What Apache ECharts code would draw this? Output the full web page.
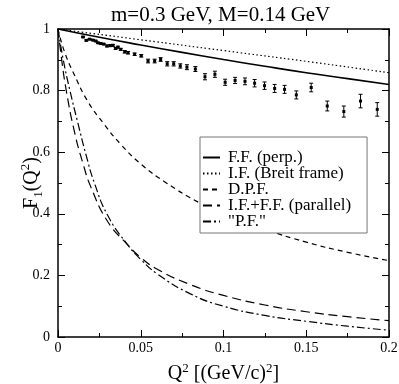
<!DOCTYPE html>
<html>
<head>
<meta charset="utf-8">
<title>F1(Q2)</title>
<script src="https://cdn.jsdelivr.net/npm/echarts@6/dist/echarts.min.js"></script>
<style>
    body { margin: 0; background: #fff; }
    #main { width: 399px; height: 384px; }
</style>
</head>
<body>
<div id="main"></div>
<script type="text/javascript">
    // curves as [Q2, F1]
    var ffPerp = [[0,1],[0.025,0.973],[0.05,0.948],[0.075,0.924],[0.1,0.901],[0.125,0.879],[0.15,0.858],[0.175,0.839],[0.2,0.82]];
    var ifBreit = [[0,1],[0.05,0.965],[0.1,0.93],[0.15,0.895],[0.2,0.858]];
    var dpf = [[0,1],[0.004,0.925],[0.01,0.85],[0.018,0.765],[0.028,0.69],[0.038,0.625],[0.05,0.562],[0.065,0.502],[0.085,0.437],[0.1,0.4],[0.125,0.35],[0.15,0.308],[0.175,0.275],[0.2,0.248]];
    var ifffPar = [[0,1],[0.002,0.91],[0.005,0.8],[0.01,0.665],[0.015,0.565],[0.02,0.485],[0.03,0.375],[0.042,0.3],[0.05,0.258],[0.06,0.22],[0.08,0.17],[0.1,0.135],[0.125,0.104],[0.15,0.082],[0.175,0.066],[0.2,0.053]];
    var pointForm = [[0,1],[0.003,0.905],[0.007,0.805],[0.012,0.695],[0.017,0.59],[0.022,0.5],[0.03,0.395],[0.042,0.3],[0.05,0.252],[0.06,0.205],[0.08,0.14],[0.1,0.1],[0.125,0.07],[0.15,0.051],[0.175,0.035],[0.2,0.022]];

    // data points with error: [Q2, F1, err]
    var expData = [
        [0.0151,0.974,0.002],[0.0171,0.963,0.002],[0.0191,0.967,0.002],[0.0211,0.964,0.002],
        [0.0228,0.961,0.002],[0.0242,0.955,0.002],[0.0258,0.953,0.002],[0.0276,0.951,0.002],
        [0.0296,0.945,0.003],[0.0316,0.946,0.003],[0.0332,0.947,0.003],[0.0348,0.937,0.003],
        [0.0362,0.941,0.003],[0.0379,0.934,0.003],[0.0403,0.926,0.004],[0.0423,0.923,0.004],
        [0.0463,0.918,0.004],[0.0503,0.913,0.004],[0.0544,0.896,0.006],[0.0584,0.896,0.006],
        [0.0620,0.901,0.006],[0.0660,0.887,0.007],[0.0699,0.887,0.007],[0.0739,0.880,0.007],
        [0.0779,0.876,0.008],[0.0830,0.870,0.008],[0.0888,0.845,0.010],[0.0948,0.853,0.010],
        [0.1010,0.827,0.010],[0.1070,0.833,0.010],[0.1130,0.830,0.011],[0.1188,0.824,0.012],
        [0.1248,0.816,0.012],[0.1309,0.807,0.013],[0.1369,0.804,0.013],[0.1440,0.786,0.013],
        [0.1530,0.810,0.014],[0.1627,0.750,0.016],[0.1727,0.732,0.018],[0.1828,0.766,0.022],
        [0.1929,0.739,0.022]
    ];

    var legendNames = ['F.F. (perp.)', 'I.F. (Breit frame)', 'D.P.F.', 'I.F.+F.F. (parallel)', '"P.F."'];
    var font = 'Liberation Serif';

    function lineSeries(name, data, dash, width) {
        return {
            name: name,
            type: 'line',
            data: data,
            symbol: 'none',
            smooth: 0.5,
            color: '#000',
            lineStyle: { color: '#000', width: width, type: dash },
            z: 3
        };
    }

    function errorItem(params, api) {
        var x = api.value(0), y = api.value(1), e = api.value(2);
        var c = api.coord([x, y]);
        var hi = api.coord([x, y + e]);
        var lo = api.coord([x, y - e]);
        var st = { stroke: '#000', lineWidth: 1 };
        return {
            type: 'group',
            children: [
                { type: 'line', shape: { x1: c[0], y1: hi[1], x2: c[0], y2: lo[1] }, style: st },
                { type: 'line', shape: { x1: c[0] - 2, y1: hi[1], x2: c[0] + 2, y2: hi[1] }, style: st },
                { type: 'line', shape: { x1: c[0] - 2, y1: lo[1], x2: c[0] + 2, y2: lo[1] }, style: st },
                { type: 'rect', shape: { x: c[0] - 1.5, y: c[1] - 1.5, width: 3, height: 3 }, style: { fill: '#000' } }
            ]
        };
    }

    var tickLine = { color: '#000', width: 1 };
    function axisBase(extra) {
        var a = {
            type: 'value',
            axisLine: { show: true, onZero: false, lineStyle: { color: '#000', width: 1.5 } },
            axisTick: { show: true, inside: true, length: 7, lineStyle: tickLine },
            minorTick: { show: true, splitNumber: 2, length: 4, lineStyle: tickLine },
            splitLine: { show: false },
            axisLabel: { show: false }
        };
        for (var k in extra) a[k] = extra[k];
        return a;
    }

    var chart = echarts.init(document.getElementById('main'));
    chart.setOption({
        animation: false,
        backgroundColor: '#fff',
        title: {
            text: 'm=0.3 GeV, M=0.14 GeV',
            left: 106,
            top: 0,
            textStyle: { fontFamily: font, fontSize: 21, fontWeight: 'normal', color: '#000' }
        },
        grid: { left: 58, right: 10, top: 29, bottom: 47, outerBoundsMode: 'none' },
        legend: {
            data: legendNames,
            orient: 'vertical',
            left: 200,
            top: 137,
            padding: [12, 16, 3, 2],
            itemWidth: 17,
            itemHeight: 10,
            itemGap: -1,
            itemStyle: { opacity: 0 },
            backgroundColor: '#fff',
            borderColor: '#777',
            borderWidth: 1,
            borderRadius: 0,
            textStyle: { fontFamily: font, fontSize: 17, color: '#000', padding: [0, 0, 0, 3] },
            z: 10
        },
        xAxis: [
            axisBase({
                min: 0, max: 0.2, interval: 0.05, position: 'bottom',
                axisLabel: { show: true, color: '#000', fontFamily: font, fontSize: 14, margin: 4 },
                name: '{a|Q}{sup|2}{a| [(GeV/c)}{sup|2}{a|]}',
                nameLocation: 'middle',
                nameMoveOverlap: false,
                nameGap: 25,
                nameTextStyle: {
                    rich: {
                        a: { fontFamily: font, fontSize: 20, color: '#000', lineHeight: 24 },
                        sup: { fontFamily: font, fontSize: 13, color: '#000', lineHeight: 13, verticalAlign: 'top' }
                    }
                }
            }),
            axisBase({ min: 0, max: 0.2, interval: 0.05, position: 'top' })
        ],
        yAxis: [
            axisBase({
                min: 0, max: 1, interval: 0.2, position: 'left',
                axisLabel: { show: true, color: '#000', fontFamily: font, fontSize: 14, margin: 8 },
                name: '{a|F}{sub|1}{a|(Q}{sup|2}{a|)}',
                nameLocation: 'middle',
                nameMoveOverlap: false,
                nameGap: 13,
                nameTextStyle: {
                    rich: {
                        a: { fontFamily: font, fontSize: 20, color: '#000', lineHeight: 26 },
                        sup: { fontFamily: font, fontSize: 13, color: '#000', lineHeight: 14, verticalAlign: 'top' },
                        sub: { fontFamily: font, fontSize: 13, color: '#000', lineHeight: 14, verticalAlign: 'bottom' }
                    }
                }
            }),
            axisBase({ min: 0, max: 1, interval: 0.2, position: 'right' })
        ],
        series: [
            lineSeries(legendNames[0], ffPerp, 'solid', 1.6),
            lineSeries(legendNames[1], ifBreit, [1.5, 2.5], 1.2),
            lineSeries(legendNames[2], dpf, [5, 4], 1.2),
            lineSeries(legendNames[3], ifffPar, [9, 5], 1.2),
            lineSeries(legendNames[4], pointForm, [8, 3, 2, 3], 1.2),
            {
                name: 'data',
                type: 'custom',
                renderItem: errorItem,
                data: expData,
                encode: { x: 0, y: 1 },
                clip: true,
                z: 4
            }
        ]
    });
</script>
</body>
</html>
